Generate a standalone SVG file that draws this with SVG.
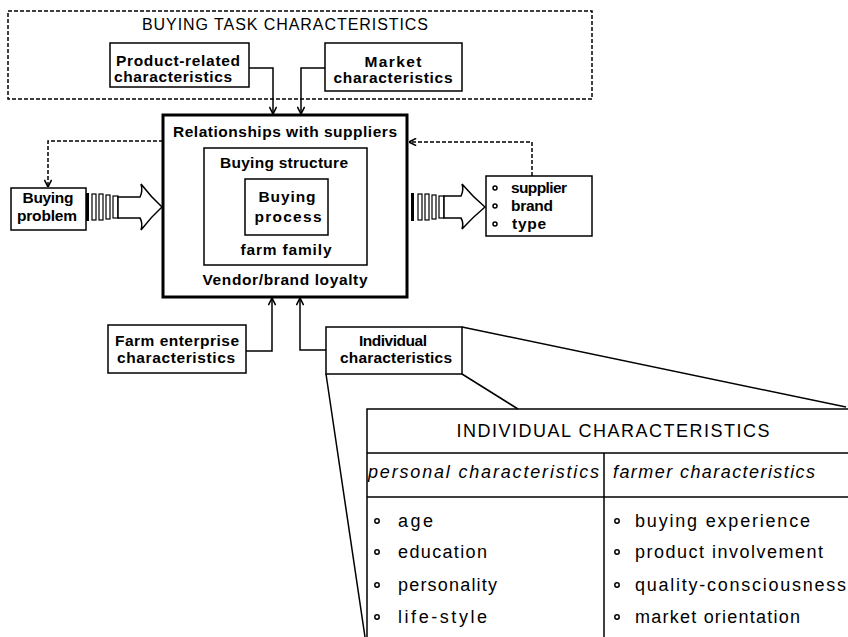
<svg xmlns="http://www.w3.org/2000/svg" width="848" height="637" viewBox="0 0 848 637">
<style>
  .bx{fill:#fff;stroke:#000;stroke-width:1.5}
  .thick{fill:#fff;stroke:#000;stroke-width:3}
  .dash{fill:none;stroke:#000;stroke-width:1.5;stroke-dasharray:4 2}
  .ln{fill:none;stroke:#000;stroke-width:1.5}
  .t{font-family:"Liberation Sans",Arial,sans-serif;font-size:15.5px;font-weight:bold;fill:#000}
  .c{text-anchor:middle}
  .h{font-family:"Liberation Sans",Arial,sans-serif;font-size:16px;fill:#000}
  .tb{font-family:"Liberation Sans",Arial,sans-serif;font-size:18px;fill:#000}
  .it{font-style:italic}
  .bul{fill:#fff;stroke:#000;stroke-width:1.5}
  .bar{fill:#fff;stroke:#000;stroke-width:1.2}
</style>
<defs>
  <marker id="ah" viewBox="0 0 10 10" refX="10" refY="5" markerWidth="8" markerHeight="8" markerUnits="userSpaceOnUse" orient="auto">
    <path d="M1,0.5 L10,5 L1,9.5" fill="none" stroke="#000" stroke-width="2"/>
  </marker>
</defs>

<g id="buying-task">
  <rect class="dash" x="8" y="11" width="584" height="88"/>
  <text class="h c" x="285" y="30" textLength="286" lengthAdjust="spacing">BUYING TASK CHARACTERISTICS</text>
</g>

<g id="product-related">
  <rect class="bx" x="110" y="43" width="139" height="44"/>
  <text class="t c" x="178" y="66" textLength="124" lengthAdjust="spacing">Product-related</text>
  <text class="t c" x="173" y="82" textLength="118" lengthAdjust="spacing">characteristics</text>
</g>

<g id="market">
  <rect class="bx" x="325" y="43" width="137" height="48"/>
  <text class="t c" x="393" y="67" textLength="57" lengthAdjust="spacing">Market</text>
  <text class="t c" x="393" y="83" textLength="119" lengthAdjust="spacing">characteristics</text>
</g>

<g id="main">
  <rect class="thick" x="163" y="115" width="244" height="182"/>
  <text class="t c" x="285" y="137" textLength="224" lengthAdjust="spacing">Relationships with suppliers</text>
  <rect class="bx" x="204" y="148" width="163" height="117"/>
  <text class="t c" x="284" y="168" textLength="128" lengthAdjust="spacing">Buying structure</text>
  <rect class="bx" x="245" y="179" width="83" height="56"/>
  <text class="t c" x="287" y="202" textLength="57" lengthAdjust="spacing">Buying</text>
  <text class="t c" x="288" y="222" textLength="67" lengthAdjust="spacing">process</text>
  <text class="t c" x="286" y="255" textLength="91" lengthAdjust="spacing">farm family</text>
  <text class="t c" x="285" y="285" textLength="165" lengthAdjust="spacing">Vendor/brand loyalty</text>
</g>

<g id="buying-problem">
  <rect class="bx" x="11" y="188" width="75" height="42"/>
  <text class="t c" x="48" y="203" textLength="51" lengthAdjust="spacing">Buying</text>
  <text class="t c" x="47" y="221" textLength="60" lengthAdjust="spacing">problem</text>
</g>

<g id="outcome">
  <rect class="bx" x="486" y="176" width="106" height="60"/>
  <circle class="bul" cx="495" cy="188" r="2"/>
  <circle class="bul" cx="495" cy="206" r="2"/>
  <circle class="bul" cx="495" cy="224" r="2"/>
  <text class="t" x="511" y="193" textLength="56" lengthAdjust="spacing">supplier</text>
  <text class="t" x="511" y="211" textLength="42" lengthAdjust="spacing">brand</text>
  <text class="t" x="512" y="229" textLength="34" lengthAdjust="spacing">type</text>
</g>

<g id="farm-enterprise">
  <rect class="bx" x="108" y="325" width="138" height="48"/>
  <text class="t c" x="177" y="346" textLength="124" lengthAdjust="spacing">Farm enterprise</text>
  <text class="t c" x="176" y="363" textLength="118" lengthAdjust="spacing">characteristics</text>
</g>

<g id="individual">
  <rect class="bx" x="326" y="327" width="136" height="47"/>
  <text class="t c" x="393" y="346" textLength="68" lengthAdjust="spacing">Individual</text>
  <text class="t c" x="396" y="363" textLength="112" lengthAdjust="spacing">characteristics</text>
</g>

<g id="individual-table">
  <path class="ln" d="M462,327 L846,407 M462,374 L518,409 M326,374 L365,637"/>
  <path class="ln" d="M367,637 V409 H848 M367,453 H848 M367,497 H848 M604,453 V637"/>
  <text class="tb c" x="613" y="437" textLength="313" lengthAdjust="spacing">INDIVIDUAL CHARACTERISTICS</text>
  <text class="tb it" x="368" y="478" textLength="231" lengthAdjust="spacing">personal characteristics</text>
  <text class="tb it" x="613" y="478" textLength="202" lengthAdjust="spacing">farmer characteristics</text>
  <circle class="bul" cx="377" cy="521" r="2.2"/>
  <circle class="bul" cx="377" cy="552" r="2.2"/>
  <circle class="bul" cx="377" cy="585" r="2.2"/>
  <circle class="bul" cx="377" cy="617" r="2.2"/>
  <text class="tb" x="398" y="527" textLength="35" lengthAdjust="spacing">age</text>
  <text class="tb" x="398" y="558" textLength="89" lengthAdjust="spacing">education</text>
  <text class="tb" x="398" y="591" textLength="99" lengthAdjust="spacing">personality</text>
  <text class="tb" x="398" y="623" textLength="89" lengthAdjust="spacing">life-style</text>
  <circle class="bul" cx="617" cy="521" r="2.2"/>
  <circle class="bul" cx="617" cy="552" r="2.2"/>
  <circle class="bul" cx="617" cy="585" r="2.2"/>
  <circle class="bul" cx="617" cy="617" r="2.2"/>
  <text class="tb" x="635" y="527" textLength="175" lengthAdjust="spacing">buying experience</text>
  <text class="tb" x="635" y="558" textLength="188" lengthAdjust="spacing">product involvement</text>
  <text class="tb" x="635" y="591" textLength="211" lengthAdjust="spacing">quality-consciousness</text>
  <text class="tb" x="635" y="623" textLength="165" lengthAdjust="spacing">market orientation</text>
</g>

<g id="connectors">
  <path class="ln" d="M249,68 H273 V114" marker-end="url(#ah)"/>
  <path class="ln" d="M325,68 H301 V114" marker-end="url(#ah)"/>
  <path class="ln" d="M246,351 H272 V298" marker-end="url(#ah)"/>
  <path class="ln" d="M326,350 H300 V298" marker-end="url(#ah)"/>
  <path class="dash" d="M163,141 H48 V187" marker-end="url(#ah)"/>
  <path class="dash" d="M532,176 V142 H409" marker-end="url(#ah)"/>
  <g id="flow-in">
    <rect x="86" y="193" width="3" height="28" fill="#000"/>
    <rect class="bar" x="92" y="194" width="4" height="26"/>
    <rect class="bar" x="99" y="194" width="4" height="26"/>
    <rect class="bar" x="106" y="195" width="4" height="24"/>
    <rect class="bar" x="113" y="196" width="5" height="22"/>
    <path d="M118,197 L140,197 Q143,191 141,184 Q151,197 162,207 Q151,217 141,230 Q143,223 140,218 L118,218 Z" fill="#fff" stroke="#000" stroke-width="1.5"/>
  </g>
  <g id="flow-out">
    <rect x="411" y="193" width="3" height="28" fill="#000"/>
    <rect class="bar" x="418" y="194" width="4" height="26"/>
    <rect class="bar" x="425" y="194" width="4" height="26"/>
    <rect class="bar" x="432" y="195" width="4" height="24"/>
    <rect class="bar" x="439" y="196" width="5" height="22"/>
    <path d="M444,196 L461,196 Q464,190 462,184 Q473,197 485,207 Q473,217 462,229 Q464,223 461,218 L444,218 Z" fill="#fff" stroke="#000" stroke-width="1.5"/>
  </g>
</g>
</svg>
